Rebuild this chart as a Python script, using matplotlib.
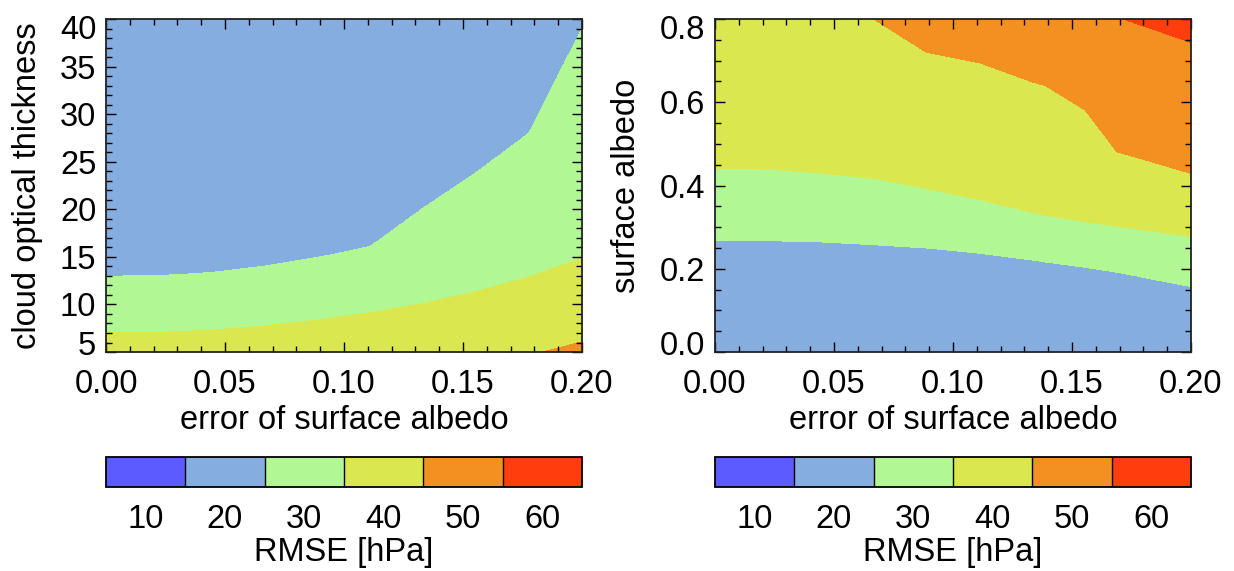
import numpy as np
import matplotlib.pyplot as plt
from matplotlib.ticker import MultipleLocator
from matplotlib.transforms import ScaledTranslation

plt.rcParams['font.family'] = ['Liberation Sans', 'DejaVu Sans']
plt.rcParams['font.size'] = 23.5

# RMSE classes shared by both panels
levels = [5, 15, 25, 35, 45, 55, 65]
level_colors = ['#5b5bff', '#85addf', '#b1f794', '#dae74e', '#f29022', '#ff3d0d']
rmse_ticks = [10, 20, 30, 40, 50, 60]

# left panel: cloud optical thickness where RMSE reaches each level,
# for each error of surface albedo
err_left = [0.0, 0.0222, 0.0444, 0.0667, 0.0889, 0.1111, 0.1333, 0.1556, 0.1778, 0.2]
tau_at_55 = [-4.0, -4.0, -4.0, -3.5, -3.0, -2.5, -2.0, -1.0, 0.5, 2.0]
tau_at_45 = [1.0, 1.0, 1.2, 1.5, 1.8, 2.2, 2.7, 3.3, 4.63, 6.05]
tau_at_35 = [7.03, 7.05, 7.3, 7.75, 8.35, 9.15, 10.1, 11.35, 12.9, 14.85]
tau_at_25 = [12.92, 13.0, 13.35, 14.0, 14.9, 16.07, 20.1, 23.85, 28.0, 39.0]
tau_at_15 = [80.0, 80.0, 80.0, 80.0, 80.0, 80.0, 80.0, 80.0, 80.0, 80.0]

# right panel: surface albedo where RMSE reaches each level
err_right = [0.0, 0.0222, 0.0444, 0.0667, 0.0889, 0.1111, 0.1333, 0.1389, 0.1556, 0.1689, 0.2]
alb_at_15 = [-0.3, -0.3, -0.3, -0.3, -0.3, -0.3, -0.3, -0.3, -0.3, -0.3, -0.3]
alb_at_25 = [0.268, 0.268, 0.265, 0.258, 0.250, 0.238, 0.222, 0.217, 0.204, 0.192, 0.158]
alb_at_35 = [0.441, 0.439, 0.430, 0.417, 0.392, 0.366, 0.335, 0.328, 0.313, 0.302, 0.277]
alb_at_45 = [0.97, 0.92, 0.86, 0.80, 0.72, 0.695, 0.649, 0.640, 0.581, 0.481, 0.429]
alb_at_55 = [1.4, 1.35, 1.3, 1.2, 1.1, 1.0, 0.95, 0.92, 0.86, 0.805, 0.743]
alb_at_65 = [2.0, 2.0, 2.0, 2.0, 2.0, 2.0, 2.0, 2.0, 2.0, 2.0, 2.0]


def build_field(x, y, err, crossings, values):
    # RMSE on a plotting grid, rebuilt from the heights of the level crossings
    cols = []
    for xi in x:
        heights = [np.interp(xi, err, c) for c in crossings]
        cols.append(np.interp(y, heights, values))
    return np.column_stack(cols)


def style_axes(ax, fig):
    ax.tick_params(which='both', direction='in', top=True, right=True, width=1.0)
    ax.tick_params(which='major', length=7, pad=12.5)
    ax.tick_params(which='minor', length=4.5)
    ax.tick_params(axis='y', which='major', pad=7)
    for s in ax.spines.values():
        s.set_linewidth(1.3)
        s.set_color('#222222')
    # end labels sit inside the axis range like in the original
    labels = ax.get_yticklabels()
    labels[0].set_transform(labels[0].get_transform() + ScaledTranslation(0, 0.09, fig.dpi_scale_trans))
    labels[-1].set_transform(labels[-1].get_transform() + ScaledTranslation(0, -0.08, fig.dpi_scale_trans))


def add_colorbar(fig, cf, rect):
    cax = fig.add_axes(rect)
    cb = fig.colorbar(cf, cax=cax, orientation='horizontal', ticks=rmse_ticks, drawedges=True)
    cb.ax.tick_params(length=0, pad=12)
    cb.outline.set_linewidth(1.3)
    cb.dividers.set_linewidth(1.0)
    cb.set_label('RMSE [hPa]', labelpad=2)
    return cb


fig = plt.figure(figsize=(12.34, 5.71), dpi=100)
x_grid = np.linspace(0, 0.2, 401)

# left panel
ax1 = fig.add_axes([0.0859, 0.3835, 0.3857, 0.5832])
tau_grid = np.linspace(5, 40, 351)
z_left = build_field(x_grid, tau_grid, err_left,
                     [tau_at_55, tau_at_45, tau_at_35, tau_at_25, tau_at_15],
                     [55, 45, 35, 25, 15])
cf1 = ax1.contourf(x_grid, tau_grid, z_left, levels=levels, colors=level_colors)
ax1.set_xlim(0, 0.2)
ax1.set_ylim(5, 40)
ax1.set_xticks([0.0, 0.05, 0.10, 0.15, 0.20])
ax1.set_xticklabels(['0.00', '0.05', '0.10', '0.15', '0.20'])
ax1.set_yticks([5, 10, 15, 20, 25, 30, 35, 40])
ax1.xaxis.set_minor_locator(MultipleLocator(0.01))
ax1.yaxis.set_minor_locator(MultipleLocator(1))
ax1.set_xlabel('error of surface albedo', labelpad=3)
ax1.set_ylabel('cloud optical thickness')
ax1.yaxis.set_label_coords(-0.132, 0.5)
style_axes(ax1, fig)

# right panel
ax2 = fig.add_axes([0.5794, 0.3835, 0.3857, 0.5832])
alb_grid = np.linspace(0, 0.8, 321)
z_right = build_field(x_grid, alb_grid, err_right,
                      [alb_at_15, alb_at_25, alb_at_35, alb_at_45, alb_at_55, alb_at_65],
                      [15, 25, 35, 45, 55, 65])
cf2 = ax2.contourf(x_grid, alb_grid, z_right, levels=levels, colors=level_colors)
ax2.set_xlim(0, 0.2)
ax2.set_ylim(0, 0.8)
ax2.set_xticks([0.0, 0.05, 0.10, 0.15, 0.20])
ax2.set_xticklabels(['0.00', '0.05', '0.10', '0.15', '0.20'])
ax2.set_yticks([0.0, 0.2, 0.4, 0.6, 0.8])
ax2.set_yticklabels(['0.0', '0.2', '0.4', '0.6', '0.8'])
ax2.xaxis.set_minor_locator(MultipleLocator(0.01))
ax2.yaxis.set_minor_locator(MultipleLocator(0.05))
ax2.set_xlabel('error of surface albedo', labelpad=3)
ax2.set_ylabel('surface albedo')
ax2.yaxis.set_label_coords(-0.153, 0.5)
style_axes(ax2, fig)

add_colorbar(fig, cf1, [0.0859, 0.1471, 0.3857, 0.0525])
add_colorbar(fig, cf2, [0.5794, 0.1471, 0.3857, 0.0525])

fig.savefig('out.png', dpi=100)
